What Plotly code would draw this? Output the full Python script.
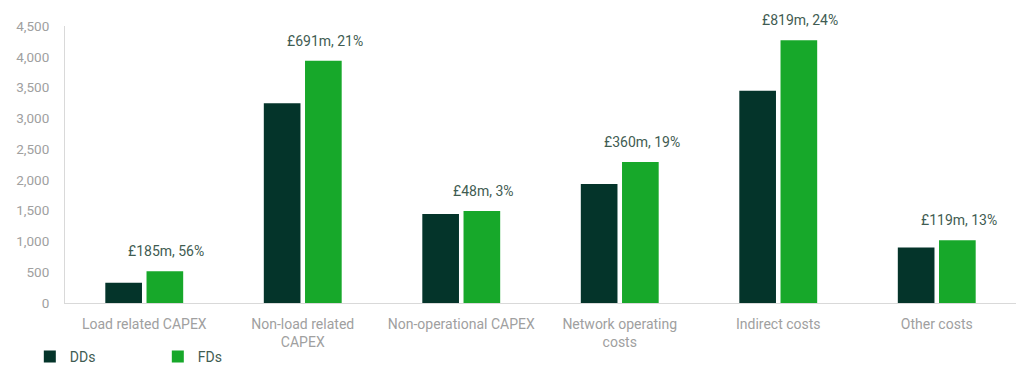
import plotly.graph_objects as go

categories = ["Load related CAPEX", "Non-load related<br>CAPEX", "Non-operational CAPEX",
              "Network operating<br>costs", "Indirect costs", "Other costs"]
dds = [330, 3245, 1445, 1932, 3450, 900]
fds = [515, 3936, 1493, 2292, 4269, 1019]
labels = ["£185m, 56%", "£691m, 21%", "£48m, 3%", "£360m, 19%", "£819m, 24%", "£119m, 13%"]
tick_vals = [0, 500, 1000, 1500, 2000, 2500, 3000, 3500, 4000, 4500]

DARK = "#04342A"
GREEN = "#17A82A"
AX = "#a0a0a0"
LBL = "#3f5c52"
FONT = "Roboto"

fig = go.Figure()
fig.add_trace(go.Bar(name="DDs", x=categories, y=dds, marker=dict(color=DARK, line=dict(width=0))))
fig.add_trace(go.Bar(name="FDs", x=categories, y=fds, marker=dict(color=GREEN, line=dict(width=0))))

for c, v, t in zip(categories, fds, labels):
    fig.add_annotation(x=c, y=v, text=t, showarrow=False, xshift=22, yshift=10,
                       yanchor="bottom", font=dict(family=FONT, size=14, color=LBL))

fig.update_layout(
    width=1008, height=361,
    margin=dict(l=57, r=0, t=18, b=66, autoexpand=False),
    paper_bgcolor="white", plot_bgcolor="white",
    barmode="group", bargap=0.48, bargroupgap=0.11,
    font=dict(family=FONT, size=13, color=AX),
    showlegend=True,
    legend=dict(orientation="h", x=-0.037, xanchor="left", y=-0.195, yanchor="middle",
                bgcolor="rgba(0,0,0,0)",
                font=dict(family=FONT, size=14, color=LBL), itemwidth=30,
                traceorder="normal", entrywidth=83),
)
fig.update_xaxes(showline=True, linecolor="#d9d9d9", linewidth=1, showgrid=False,
                 ticks="", ticklabelstandoff=8, automargin=False,
                 tickfont=dict(family=FONT, size=14, color=AX))
fig.update_yaxes(range=[0, 4500], tickvals=tick_vals, tickformat=",", showgrid=False,
                 showline=True, linecolor="#d9d9d9", linewidth=1, zeroline=False,
                 ticks="", ticklen=0, ticklabelstandoff=12, automargin=False,
                 tickfont=dict(family=FONT, size=13.5, color=AX))

fig.write_html("out.html")
